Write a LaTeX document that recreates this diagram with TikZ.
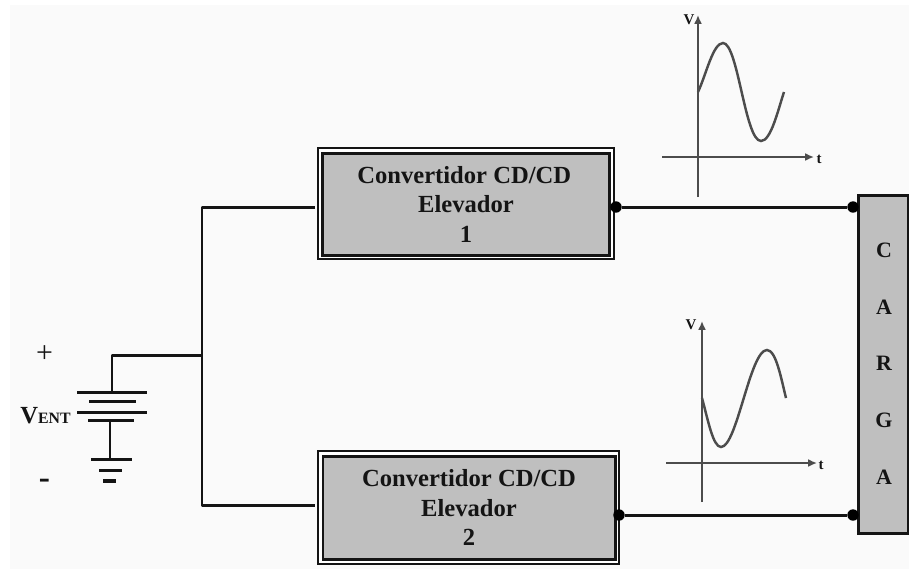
\documentclass[tikz,border=0pt]{standalone}
\usepackage{fontspec}
\setmainfont{Liberation Serif}
\usetikzlibrary{arrows.meta}
\definecolor{boxgray}{gray}{0.75}
\definecolor{plotgray}{gray}{0.3}
\definecolor{inkblack}{gray}{0.08}
\tikzset{
  x=0.02cm,y=-0.02cm,
  wire/.style={draw=inkblack,line width=1.7pt},
  plate/.style={draw=inkblack,line width=1.7pt},
  outerbox/.style={draw=inkblack,line width=0.9pt,rectangle,inner sep=0pt,fill=white},
  innerbox/.style={draw=inkblack,line width=1.7pt,rectangle,inner sep=0pt,fill=boxgray,align=center,font=\fontsize{14}{16.8}\selectfont\bfseries,text=inkblack},
  cargabox/.style={draw=inkblack,line width=1.7pt,rectangle,inner sep=0pt,fill=boxgray,align=center,font=\fontsize{12.5}{12.5}\selectfont\bfseries,text=inkblack},
  junction/.style={circle,fill=black,inner sep=0pt,minimum size=6.5pt},
  axisline/.style={draw=plotgray,line width=1.1pt},
  axisarrow/.style={axisline,-{Latex[length=5pt,width=4.5pt]}},
  curveline/.style={draw=plotgray,line width=1.4pt},
  plotlabel/.style={font=\fontsize{8.5}{8.5}\selectfont\bfseries,text=inkblack,inner sep=0pt},
  vlabel/.style={text=inkblack,inner sep=0pt},
}
\begin{document}
\begin{tikzpicture}
\useasboundingbox[fill=white] (0,0) rectangle (909,569);
\fill[black!2] (10,5) rectangle (909,569);
% converter boxes
\node[outerbox,minimum width=296*0.02cm,minimum height=111*0.02cm] (o1) at (466,203.5) {};
\node[innerbox,minimum width=287*0.02cm,minimum height=102*0.02cm] (b1) at (466,204) {\makebox[0pt]{\hspace{-2pt}Convertidor CD/CD}\\Elevador\\1};
\node[outerbox,minimum width=301*0.02cm,minimum height=113*0.02cm] (o2) at (468.5,507.5) {};
\node[innerbox,minimum width=292*0.02cm,minimum height=103*0.02cm] (b2) at (469,507.5) {Convertidor CD/CD\\Elevador\\2};
% load
\node[cargabox,minimum width=50*0.02cm,minimum height=338*0.02cm] (load) at (883,364) {};
\node[cargabox,draw=none,fill=none] (lc) at (884,250) {C};
\node[cargabox,draw=none,fill=none] (la) at (884,307) {A};
\node[cargabox,draw=none,fill=none] (lr) at (884,363) {R};
\node[cargabox,draw=none,fill=none] (lg) at (884,420) {G};
\node[cargabox,draw=none,fill=none] (lb) at (884,477) {A};
% connection points
\coordinate (bus1) at (202,207);
\coordinate (bus2) at (202,505);
\coordinate (busm) at (202,355);
\coordinate (batcorner) at (112,355);
\coordinate (battop) at (112,392);
\coordinate (in1) at (315,207);
\coordinate (in2) at (315,505);
\node[junction] (d1) at (616,207) {};
\node[junction] (d2) at (853,207) {};
\node[junction] (d3) at (619,515) {};
\node[junction] (d4) at (853,515) {};
% wires
\draw[wire,line join=round] (in1) -- (bus1) -- (bus2) -- (in2);
\draw[wire,line join=round] (busm) -- (batcorner) -- (battop);
\draw[wire] (d1) -- (d2);
\draw[wire] (d3) -- (d4);
% battery
\draw[plate] (77,392) -- (147,392);
\draw[plate] (89,401) -- (136,401);
\draw[plate] (77,412) -- (147,412);
\draw[plate] (88,420) -- (134,420);
\coordinate (stemtop) at (110,420);
\coordinate (stembot) at (110,459);
\draw[wire] (stemtop) -- (stembot);
\draw[plate] (91,459) -- (132,459);
\draw[plate] (99,470) -- (122,470);
\draw[plate,line width=2.2pt] (103,481) -- (116,481);
% source labels
\node[vlabel,font=\fontsize{17}{17}\selectfont] (plus) at (44.5,354) {+};
\node[vlabel,font=\fontsize{19}{19}\selectfont\bfseries,anchor=base] (minus) at (44.5,488) {-};
\node[vlabel,font=\bfseries,anchor=base west] (vent) at (20,423) {\fontsize{14}{14}\selectfont V\fontsize{9}{9}\selectfont ENT};
% plot 1
\coordinate (a1b) at (698,197);
\coordinate (a1t) at (698,15);
\coordinate (h1l) at (662,157);
\coordinate (h1r) at (814,157);
\draw[axisarrow] (a1b) -- (a1t);
\draw[axisarrow] (h1l) -- (h1r);
\node[plotlabel] (v1) at (689,20) {V};
\node[plotlabel] (t1) at (819,159) {t};
\draw[curveline] (698,92) .. controls (706,75) and (713,43) .. (723,43)
  .. controls (738,43) and (745,141) .. (761,141)
  .. controls (771,141) and (778,110) .. (784,92);
% plot 2
\coordinate (a2b) at (702,502);
\coordinate (a2t) at (702,321);
\coordinate (h2l) at (666,463);
\coordinate (h2r) at (817,463);
\draw[axisarrow] (a2b) -- (a2t);
\draw[axisarrow] (h2l) -- (h2r);
\node[plotlabel] (v2) at (691,325) {V};
\node[plotlabel] (t2) at (821,465) {t};
\draw[curveline] (702,398) .. controls (708,420) and (713,447) .. (721,447)
  .. controls (737,447) and (750,350) .. (767,350)
  .. controls (776,350) and (781,378) .. (786,398);
\end{tikzpicture}
\end{document}
